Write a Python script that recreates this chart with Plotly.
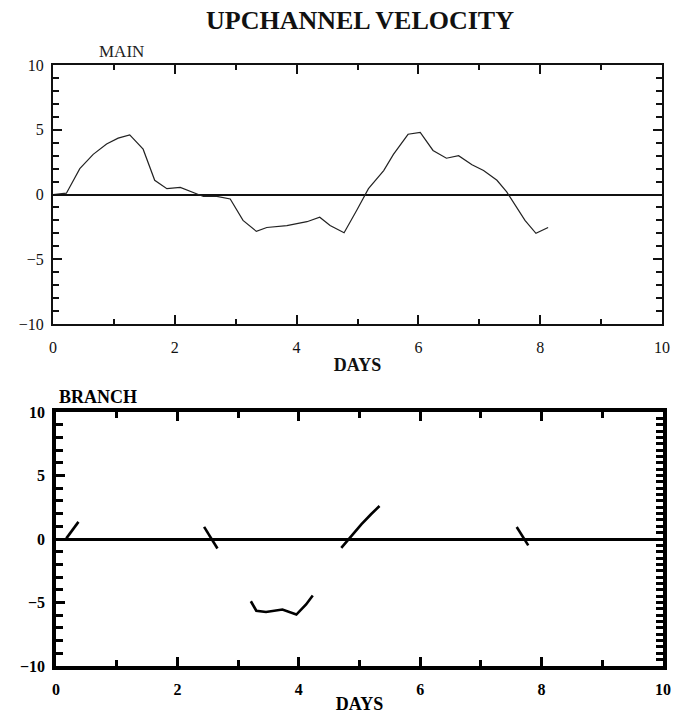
import plotly.graph_objects as go

# ---- data ----
main_days = [0.0, 0.22, 0.44, 0.66, 0.88, 1.07, 1.26, 1.48, 1.67, 1.87, 2.09, 2.28, 2.47, 2.69, 2.91,
             3.12, 3.34, 3.51, 3.84, 4.17, 4.38, 4.55, 4.78, 4.99, 5.18, 5.43, 5.59, 5.83, 6.03, 6.24,
             6.46, 6.66, 6.88, 7.07, 7.29, 7.45, 7.75, 7.93, 8.13]
main_vel = [0.0, 0.1, 2.0, 3.1, 3.9, 4.35, 4.6, 3.5, 1.1, 0.45, 0.55, 0.2, -0.15, -0.15, -0.35,
            -2.0, -2.85, -2.55, -2.4, -2.1, -1.75, -2.4, -2.95, -1.2, 0.45, 1.85, 3.1, 4.65, 4.8, 3.4,
            2.8, 3.0, 2.3, 1.85, 1.1, 0.2, -2.0, -3.0, -2.55]

branch_days = [0.17, 0.37, None,
               2.44, 2.66, None,
               3.21, 3.30, 3.46, 3.73, 3.96, 4.12, 4.23, None,
               4.70, 5.03, 5.19, 5.33, None,
               7.59, 7.78]
branch_vel = [0.05, 1.35, None,
              0.95, -0.75, None,
              -4.9, -5.65, -5.75, -5.55, -5.95, -5.15, -4.45, None,
              -0.7, 1.15, 1.95, 2.6, None,
              0.95, -0.5]

x_ticks = [0, 2, 4, 6, 8, 10]
y_ticks = [-10, -5, 0, 5, 10]

TITLE = "UPCHANNEL VELOCITY"
SERIF = "Liberation Serif"

fig = go.Figure()
fig.add_trace(go.Scatter(x=main_days, y=main_vel, mode="lines",
                         line=dict(color="#222", width=1.2), xaxis="x", yaxis="y",
                         showlegend=False, hoverinfo="skip"))
fig.add_trace(go.Scatter(x=branch_days, y=branch_vel, mode="lines",
                         line=dict(color="#000", width=2.6), xaxis="x2", yaxis="y3",
                         connectgaps=False, showlegend=False, hoverinfo="skip"))
# invisible helper trace so the right-hand tick axis of the lower panel is drawn
fig.add_trace(go.Scatter(x=branch_days, y=branch_vel, mode="lines", opacity=0,
                         line=dict(width=0), xaxis="x2", yaxis="y4",
                         showlegend=False, hoverinfo="skip"))

top_dom_x = [53 / 678, 662 / 678]
top_dom_y = [1 - 324 / 718, 1 - 65 / 718]
bot_dom_x = [56 / 678, 663 / 678]
bot_dom_y = [1 - 666 / 718, 1 - 412 / 718]

tick_font_top = dict(family=SERIF, size=16, color="#111")
tick_font_bot = dict(family=SERIF, size=16, color="#000", weight="bold")

fig.update_layout(
    template="none",
    width=678, height=718,
    margin=dict(l=0, r=0, t=0, b=0, autoexpand=False),
    paper_bgcolor="white", plot_bgcolor="white",
    showlegend=False,
    xaxis=dict(domain=top_dom_x, anchor="y", range=[0, 10], tickvals=x_ticks,
               ticks="inside", ticklen=9, tickwidth=2, tickcolor="#111",
               minor=dict(dtick=1, ticks="inside", ticklen=5, tickwidth=1.5, tickcolor="#111"),
               showline=True, linecolor="#111", linewidth=2, mirror="ticks",
               showgrid=False, zeroline=False, tickfont=tick_font_top,
               ticklabelstandoff=8, automargin=False,
               title=dict(text="<b>DAYS</b>", font=dict(family=SERIF, size=18, color="#111"),
                          standoff=3)),
    yaxis=dict(domain=top_dom_y, anchor="x", range=[-10, 10], tickvals=y_ticks,
               ticks="inside", ticklen=9, tickwidth=2, tickcolor="#111",
               minor=dict(dtick=1, ticks="inside", ticklen=6, tickwidth=1.5, tickcolor="#111"),
               showline=True, linecolor="#111", linewidth=2, mirror="ticks",
               showgrid=False, zeroline=True, zerolinecolor="#111", zerolinewidth=2,
               tickfont=tick_font_top, ticklabelstandoff=4, automargin=False),
    xaxis2=dict(domain=bot_dom_x, anchor="y3", range=[0, 10], tickvals=x_ticks,
                ticks="inside", ticklen=9, tickwidth=3, tickcolor="#000",
                minor=dict(dtick=1, ticks="inside", ticklen=6, tickwidth=2.5, tickcolor="#000"),
                showline=True, linecolor="#000", linewidth=3.5, mirror="ticks",
                showgrid=False, zeroline=False, tickfont=tick_font_bot,
                ticklabelstandoff=6, automargin=False,
                title=dict(text="<b>DAYS</b>", font=dict(family=SERIF, size=18, color="#000"),
                           standoff=1)),
    yaxis3=dict(domain=bot_dom_y, anchor="x2", range=[-10, 10], tickvals=y_ticks,
                ticks="inside", ticklen=9, tickwidth=3, tickcolor="#000",
                minor=dict(dtick=1, ticks="inside", ticklen=7, tickwidth=2.5, tickcolor="#000"),
                showline=True, linecolor="#000", linewidth=3.5, mirror=True,
                showgrid=False, zeroline=True, zerolinecolor="#000", zerolinewidth=3,
                tickfont=tick_font_bot, ticklabelstandoff=4, automargin=False),
    yaxis4=dict(domain=bot_dom_y, anchor="x2", overlaying="y3", side="right",
                range=[-10, 10], dtick=0.5, tick0=0, ticks="inside", ticklen=7,
                tickwidth=2.5, tickcolor="#000", showticklabels=False,
                showline=False, showgrid=False, zeroline=False, automargin=False),
    annotations=[
        dict(text="<b>" + TITLE + "</b>", x=0.531, y=1 - 20 / 718, xref="paper", yref="paper",
             xanchor="center", yanchor="middle", showarrow=False,
             font=dict(family=SERIF, size=26, color="#111")),
        dict(text="MAIN", x=97 / 678, y=1 - 63 / 718, xref="paper", yref="paper",
             xanchor="left", yanchor="bottom", showarrow=False,
             font=dict(family=SERIF, size=17, color="#222")),
        dict(text="<b>BRANCH</b>", x=57 / 678, y=1 - 409 / 718, xref="paper", yref="paper",
             xanchor="left", yanchor="bottom", showarrow=False,
             font=dict(family=SERIF, size=18, color="#000")),
    ],
)

fig.write_html("out.html")
